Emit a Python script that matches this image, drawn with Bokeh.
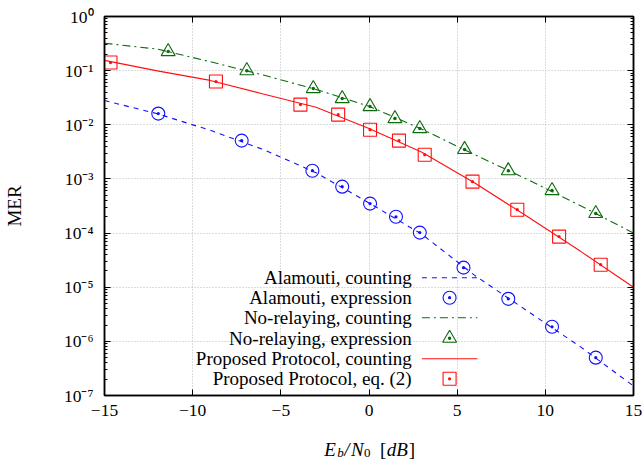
from bokeh.plotting import figure
from bokeh.layouts import column
from bokeh.models import (FixedTicker, CustomJSTickFormatter, LinearAxis, LogAxis,
                          Label, Range1d, ColumnDataSource, CustomLabelingPolicy)
from bokeh.embed import file_html
from bokeh.resources import INLINE

# ---------------- data ----------------
x_count = [-15, -12, -9, -6, -3, 0, 3, 6, 9, 12, 15]
alamouti_count = [0.028, 0.016, 0.0079, 0.0035, 0.0013, 3.6e-4, 9.5e-5, 1.65e-5, 3.6e-6, 7.9e-7, 1.5e-7]
norelay_count = [0.32, 0.25, 0.146, 0.083, 0.045, 0.022, 0.0083, 0.0028, 9.7e-4, 3.2e-4, 1.0e-4]
proposed_count = [0.155, 0.099, 0.066, 0.037, 0.021, 0.0085, 0.0031, 8.4e-4, 2.0e-4, 4.6e-5, 1.0e-5]

x_alamouti_expr = [-11.95, -7.22, -3.21, -1.52, 0.06, 1.53, 2.88, 5.36, 7.9, 10.38, 12.86]
alamouti_expr = [0.0161, 0.0051, 0.00142, 7.2e-4, 3.5e-4, 2.0e-4, 1.02e-4, 2.3e-5, 6.1e-6, 1.86e-6, 5.0e-7]
x_norelay_expr = [-11.39, -6.93, -3.16, -1.52, 0.06, 1.47, 2.88, 5.42, 7.9, 10.38, 12.86]
norelay_expr = [0.225, 0.100, 0.0467, 0.0305, 0.0217, 0.0130, 0.0085, 0.0035, 0.00142, 6.1e-4, 2.3e-4]
x_proposed_eq = [-14.66, -8.68, -3.89, -1.75, 0.06, 1.7, 3.16, 5.87, 8.41, 10.78, 13.14]
proposed_eq = [0.141, 0.063, 0.0236, 0.0154, 0.0081, 0.0051, 0.0028, 8.9e-4, 2.7e-4, 8.6e-5, 2.6e-5]

x_ticks = [-15, -10, -5, 0, 5, 10, 15]
y_exponents = [-7, -6, -5, -4, -3, -2, -1, 0]

legend_labels = ["Alamouti, counting", "Alamouti, expression",
                 "No-relaying, counting", "No-relaying, expression",
                 "Proposed Protocol, counting", "Proposed Protocol, eq. (2)"]

# ---------------- styles ----------------
BLUE = "#1010ff"
GREEN = "#0b6b0b"
RED = "#ff1010"
FONT = "Liberation Serif"
FS_TICK = "17.5px"
FS = "19px"
FS_SUB = "13px"
W, H_MAIN, H_TITLE = 643, 425, 34

p = figure(width=W, height=H_MAIN, x_range=Range1d(-15, 15), y_range=Range1d(1e-7, 1),
           y_axis_type="log", output_backend="svg", toolbar_location=None,
           min_border_left=101, min_border_right=10, min_border_top=16, min_border_bottom=30,
           background_fill_color="white", border_fill_color="white")
p.outline_line_color = "black"
p.outline_line_width = 1.5
p.outline_line_alpha = 1.0

yt = FixedTicker(ticks=[10.0 ** e for e in y_exponents],
                 minor_ticks=[m * 10.0 ** e for e in y_exponents[:-1] for m in range(2, 10)])
xt = FixedTicker(ticks=x_ticks, minor_ticks=[])

xfmt = CustomJSTickFormatter(code="return tick < 0 ? '\\u2212' + Math.abs(tick) : String(tick);")
yfmt = CustomJSTickFormatter(code="""
const e = Math.round(Math.log10(tick));
const m = {'0':'\\u2070','1':'\\u00b9','2':'\\u00b2','3':'\\u00b3','4':'\\u2074','5':'\\u2075',
           '6':'\\u2076','7':'\\u2077','8':'\\u2078','9':'\\u2079','-':'\\u207b'};
return '10' + String(e).split('').map(c => m[c]).join('');
""")
no_labels = CustomLabelingPolicy(code="return new Set()")

def style_axis(ax, ticker, labels=True):
    ax.ticker = ticker
    ax.major_tick_in = 6
    ax.major_tick_out = 0
    ax.minor_tick_in = 3
    ax.minor_tick_out = 0
    ax.axis_line_color = "black"
    ax.axis_line_width = 1.5
    ax.major_tick_line_color = "black"
    ax.minor_tick_line_color = "black"
    ax.major_label_text_font = FONT
    ax.major_label_text_color = "black"
    if labels:
        ax.major_label_text_font_size = FS_TICK
    else:
        ax.major_label_text_font_size = "2px"
        ax.major_label_standoff = 0
        ax.major_label_policy = no_labels

style_axis(p.xaxis[0], xt)
p.xaxis[0].formatter = xfmt
p.xaxis[0].major_label_standoff = 9
style_axis(p.yaxis[0], yt)
p.yaxis[0].formatter = yfmt
p.yaxis[0].major_label_standoff = 11
p.yaxis[0].axis_label = "MER"
p.yaxis[0].axis_label_text_font = FONT
p.yaxis[0].axis_label_text_font_style = "normal"
p.yaxis[0].axis_label_text_font_size = FS
p.yaxis[0].axis_label_text_color = "black"
p.yaxis[0].axis_label_standoff = 36

top = LinearAxis()
style_axis(top, xt, labels=False)
p.add_layout(top, "above")
right = LogAxis()
style_axis(right, yt, labels=False)
p.add_layout(right, "right")

for g, tk in ((p.xgrid[0], xt), (p.ygrid[0], yt)):
    g.ticker = tk
    g.grid_line_color = "#b8b8b8"
    g.grid_line_dash = "1 2"
    g.grid_line_width = 1

# ---------------- curves ----------------
src_count = ColumnDataSource(dict(x=x_count, a=alamouti_count, n=norelay_count, r=proposed_count))
p.line("x", "a", source=src_count, color=BLUE, line_width=1.1, line_dash="5 5")
p.line("x", "n", source=src_count, color=GREEN, line_width=1.1, line_dash="8 4 2 4")
p.line("x", "r", source=src_count, color=RED, line_width=1.1)

p.scatter(x_alamouti_expr, alamouti_expr, marker="circle_dot", size=13,
          line_color=BLUE, fill_color=None, line_width=1.1)
p.scatter(x_norelay_expr, norelay_expr, marker="triangle_dot", size=14,
          line_color=GREEN, fill_color=None, line_width=1.1)
p.scatter(x_proposed_eq, proposed_eq, marker="square_dot", size=13,
          line_color=RED, fill_color=None, line_width=1.1)

# ---------------- legend (layout positions, not data) ----------------
leg_text_x = 2.42
leg_line_x0, leg_line_x1 = 3.0, 6.15
leg_mark_x = 4.57
leg_rows = [10 ** -4.824, 10 ** -5.194, 10 ** -5.564, 10 ** -5.943, 10 ** -6.322, 10 ** -6.691]
for lab, yy in zip(legend_labels, leg_rows):
    p.add_layout(Label(x=leg_text_x, y=yy, text=lab, text_align="right", text_baseline="middle",
                       text_font=FONT, text_font_size=FS, text_color="black"))
p.segment(x0=[leg_line_x0], y0=[leg_rows[0]], x1=[leg_line_x1], y1=[leg_rows[0]],
          color=BLUE, line_width=1.1, line_dash="5 5")
p.segment(x0=[leg_line_x0], y0=[leg_rows[2]], x1=[leg_line_x1], y1=[leg_rows[2]],
          color=GREEN, line_width=1.1, line_dash="8 4 2 4")
p.segment(x0=[leg_line_x0], y0=[leg_rows[4]], x1=[leg_line_x1], y1=[leg_rows[4]],
          color=RED, line_width=1.1)
p.scatter([leg_mark_x], [leg_rows[1]], marker="circle_dot", size=13, line_color=BLUE,
          fill_color=None, line_width=1.1)
p.scatter([leg_mark_x], [leg_rows[3]], marker="triangle_dot", size=14, line_color=GREEN,
          fill_color=None, line_width=1.1)
p.scatter([leg_mark_x], [leg_rows[5]], marker="square_dot", size=13, line_color=RED,
          fill_color=None, line_width=1.1)

# ---------------- x axis title strip: E_b/N_0 [dB] ----------------
# strip shares the main x range (frames are aligned by the column); y is page pixels
t = figure(width=W, height=H_TITLE, x_range=p.x_range,
           y_range=Range1d(H_MAIN + H_TITLE, H_MAIN),
           output_backend="svg", toolbar_location=None,
           x_axis_location=None, y_axis_location=None,
           min_border=0, min_border_left=101, min_border_right=10,
           min_border_top=0, min_border_bottom=0,
           background_fill_color="white", border_fill_color="white")
t.outline_line_color = None
t.xgrid.visible = False
t.ygrid.visible = False

BASE_Y, SUB_Y = 449, 452
pieces = [(-2.537, BASE_Y, "E", "italic", FS),
          (-1.80, SUB_Y, "b", "italic", FS_SUB),
          (-1.41, BASE_Y, "/", "italic", FS),
          (-1.015, BASE_Y, "N", "italic", FS),
          (-0.28, SUB_Y, "0", "normal", FS_SUB),
          (0.62, BASE_Y, "[", "normal", FS),
          (1.0, BASE_Y, "dB", "italic", FS),
          (2.25, BASE_Y, "]", "normal", FS)]
for xx, yy, txt, st, fs in pieces:
    t.add_layout(Label(x=xx, y=yy, text=txt, text_align="left", text_baseline="alphabetic",
                       text_font=FONT, text_font_style=st, text_font_size=fs, text_color="black"))

layout = column(p, t, spacing=0)
open("out.html", "w").write(file_html(layout, INLINE))
